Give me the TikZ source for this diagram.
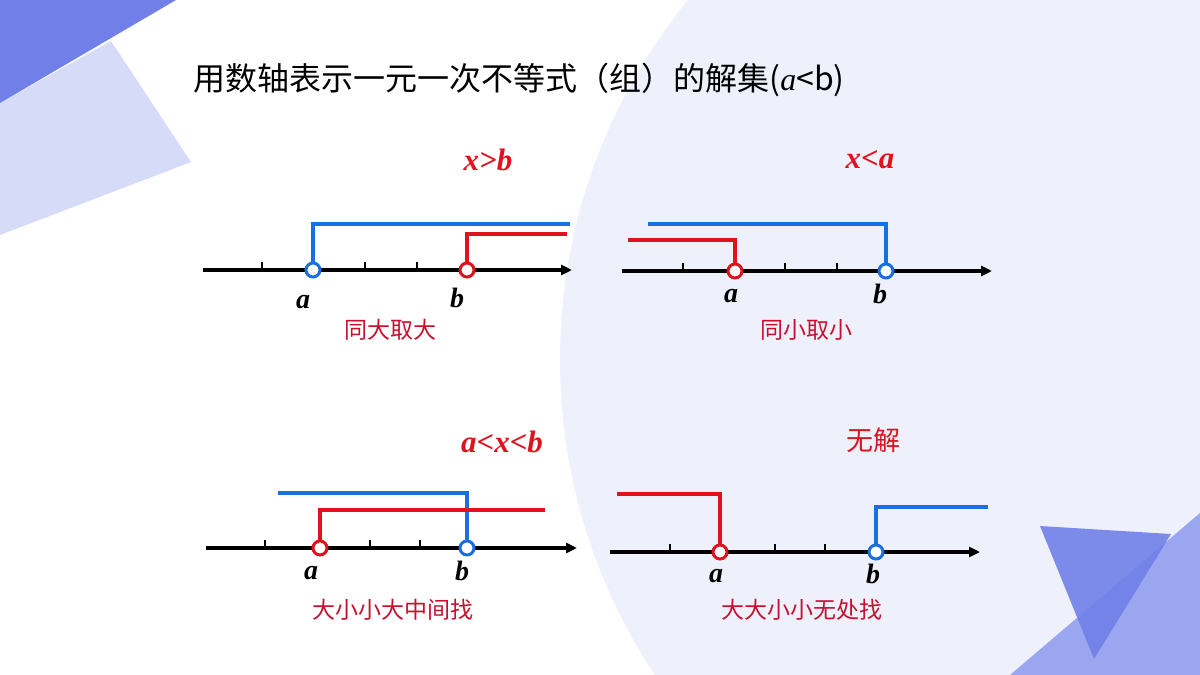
\documentclass[tikz,border=0pt]{standalone}
\usepackage{fontspec}
\setmainfont{Liberation Serif}
\newfontfamily\cjk{Noto Sans CJK SC}
\usetikzlibrary{arrows.meta}
\definecolor{bl}{HTML}{1A6FE0}
\definecolor{rd}{HTML}{E0121E}
\definecolor{lr}{HTML}{C8102E}
\definecolor{bgc}{HTML}{EEF1FC}
\definecolor{dk}{HTML}{7080E8}
\definecolor{lt}{HTML}{D6DCF7}
\definecolor{md}{HTML}{9AA6F0}
\begin{document}
\begin{tikzpicture}[x=1pt,y=-1pt,
  axis/.style={line width=3.5pt,-{Triangle[length=11pt,width=10pt]}},
  tick/.style={line width=2.5pt},
  bline/.style={bl,line width=3.5pt},
  rline/.style={rd,line width=3.5pt},
  bdot/.style={circle,draw=bl,fill=white,line width=3pt,inner sep=0pt,minimum size=14pt},
  rdot/.style={circle,draw=rd,fill=white,line width=3pt,inner sep=0pt,minimum size=14pt},
  lab/.style={font=\fontsize{28}{28}\selectfont\bfseries\itshape},
  rule/.style={text=lr,font=\cjk\fontsize{23}{23}\selectfont},
  cond/.style={text=rd,font=\fontsize{31}{31}\selectfont\bfseries\itshape}]
\useasboundingbox (0,0) rectangle (1200,675);
\fill[white] (0,0) rectangle (1200,675);
\begin{scope}
\clip (0,0) rectangle (1200,675);
\fill[bgc] (1130,360) circle (570);
\end{scope}
\fill[lt] (111,41) -- (191,162) -- (0,235) -- (0,103) -- cycle;
\fill[dk] (0,0) -- (176,0) -- (0,103) -- cycle;
\fill[md] (1010,675) -- (1200,513) -- (1200,675) -- cycle;
\fill[dk,opacity=0.9] (1040,526) -- (1171,534) -- (1094,659) -- cycle;
\node[anchor=west,font=\cjk\fontsize{32}{32}\selectfont] (title) at (190,80) {用数轴表示一元一次不等式（组）的解集({\rmfamily\itshape a}<b)};

% panel 1
\coordinate (s1) at (203,270); \coordinate (e1) at (572,270);
\draw[axis] (s1) -- (e1);
\foreach \t in {262,365,417} \draw[tick] (\t,270) -- (\t,262);
\coordinate (pb1) at (570,224); \coordinate (pr1) at (567,234);
\draw[bline] (313,270) |- (pb1);
\draw[rline] (467,270) |- (pr1);
\node[bdot] (a1) at (313,270) {};
\node[rdot] (b1) at (467,270) {};
\node[lab] (la1) at (303,302) {a};
\node[lab] (lb1) at (457,298) {b};
\node[rule] (r1) at (390,330) {同大取大};
\node[cond] (c1) at (488,160) {x>b};

% panel 2
\coordinate (s2) at (622,271); \coordinate (e2) at (992,271);
\draw[axis] (s2) -- (e2);
\foreach \t in {683,785,837} \draw[tick] (\t,271) -- (\t,263);
\coordinate (pb2) at (648,224); \coordinate (pr2) at (628,240);
\draw[bline] (pb2) -| (886,271);
\draw[rline] (pr2) -| (735,271);
\node[rdot] (a2) at (735,271) {};
\node[bdot] (b2) at (886,271) {};
\node[lab] (la2) at (731,296) {a};
\node[lab] (lb2) at (880,294) {b};
\node[rule] (r2) at (806,330) {同小取小};
\node[cond] (c2) at (870,160) {x<a};

% panel 3
\coordinate (s3) at (206,548); \coordinate (e3) at (577,548);
\draw[axis] (s3) -- (e3);
\foreach \t in {265,370,420} \draw[tick] (\t,548) -- (\t,540);
\coordinate (pb3) at (278,493); \coordinate (pr3) at (545,510);
\draw[bline] (pb3) -| (467,548);
\draw[rline] (320,548) |- (pr3);
\node[rdot] (a3) at (320,548) {};
\node[bdot] (b3) at (467,548) {};
\node[lab] (la3) at (311,573) {a};
\node[lab] (lb3) at (462,571) {b};
\node[rule] (r3) at (393,610) {大小小大中间找};
\node[cond] (c3) at (502,442) {a<x<b};

% panel 4
\coordinate (s4) at (610,552); \coordinate (e4) at (980,552);
\draw[axis] (s4) -- (e4);
\foreach \t in {670,775,825} \draw[tick] (\t,552) -- (\t,544);
\coordinate (pr4) at (617,494); \coordinate (pb4) at (988,507);
\draw[rline] (pr4) -| (720,552);
\draw[bline] (876,552) |- (pb4);
\node[rdot] (a4) at (720,552) {};
\node[bdot] (b4) at (876,552) {};
\node[lab] (la4) at (716,576) {a};
\node[lab] (lb4) at (873,574) {b};
\node[rule] (r4) at (802,610) {大大小小无处找};
\node[text=rd,font=\cjk\fontsize{27}{27}\selectfont] (c4) at (873,440) {无解};
\end{tikzpicture}
\end{document}
